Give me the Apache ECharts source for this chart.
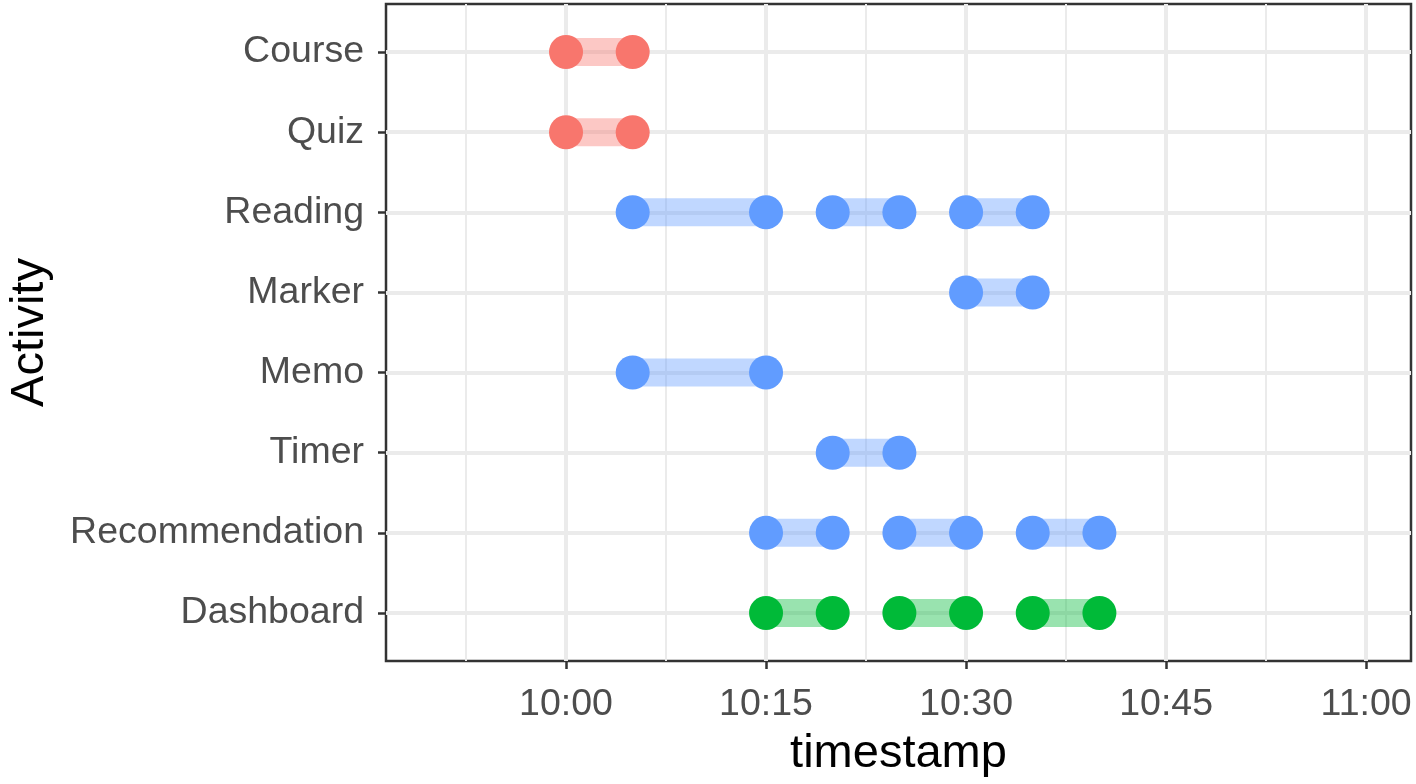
<!DOCTYPE html>
<html>
<head>
<meta charset="utf-8">
<script src="https://cdn.jsdelivr.net/npm/echarts@6/dist/echarts.min.js"></script>
<style>html,body{margin:0;padding:0;background:#fff}#c{width:1416px;height:784px}</style>
</head>
<body>
<div id="c"></div>
<script>
const activities = ['Course','Quiz','Reading','Marker','Memo','Timer','Recommendation','Dashboard'];
const activityGroup = [0,0,1,1,1,1,1,2];
const groupColors = ['#F8766D','#619CFF','#00BA38'];
const segments = [
  ['Course','10:00','10:05'],
  ['Quiz','10:00','10:05'],
  ['Reading','10:05','10:15'],
  ['Reading','10:20','10:25'],
  ['Reading','10:30','10:35'],
  ['Marker','10:30','10:35'],
  ['Memo','10:05','10:15'],
  ['Timer','10:20','10:25'],
  ['Recommendation','10:15','10:20'],
  ['Recommendation','10:25','10:30'],
  ['Recommendation','10:35','10:40'],
  ['Dashboard','10:15','10:20'],
  ['Dashboard','10:25','10:30'],
  ['Dashboard','10:35','10:40']
];
const majorTicks = ['10:00','10:15','10:30','10:45','11:00'];
const minorTicks = ['09:52:30','10:07:30','10:22:30','10:37:30','10:52:30'];
const xRange = ['09:46:30','11:03:22'];

function toMin(s){const p=s.split(':').map(Number);return p[0]*60+p[1]+(p[2]||0)/60;}
function fmt(v){const h=Math.floor(v/60), m=Math.round(v-h*60);return h+':'+(m<10?'0':'')+m;}
function rgba(hex,a){const n=parseInt(hex.slice(1),16);return 'rgba('+(n>>16)+','+((n>>8)&255)+','+(n&255)+','+a+')';}

const segData = segments.map(s=>{const yi=activities.indexOf(s[0]);return [toMin(s[1]),toMin(s[2]),yi,activityGroup[yi]];});
const pointSeries = groupColors.map((col,g)=>{
  const pts=[];
  segData.filter(d=>d[3]===g).forEach(d=>{pts.push([d[0],d[2]]);pts.push([d[1],d[2]]);});
  return {type:'scatter',xAxisIndex:0,yAxisIndex:0,data:pts,symbolSize:34,itemStyle:{color:col,opacity:1},z:5};
});

const font = '"Liberation Sans", Arial, Helvetica, sans-serif';
const chart = echarts.init(document.getElementById('c'),null,{renderer:'canvas'});
chart.setOption({
  animation:false,
  grid:{left:386,right:5,top:4,bottom:123,show:true,borderColor:'#333333',borderWidth:2.5,containLabel:false,outerBoundsMode:'none'},
  xAxis:[{
    type:'value',min:toMin(xRange[0]),max:toMin(xRange[1]),position:'bottom',
    axisLine:{show:false,onZero:false},
    axisTick:{show:true,length:8,lineStyle:{color:'#333333',width:2.5},customValues:majorTicks.map(toMin)},
    axisLabel:{customValues:majorTicks.map(toMin),formatter:fmt,color:'#4D4D4D',fontSize:37.5,fontFamily:font,margin:25},
    splitLine:{show:true,lineStyle:{color:'#EBEBEB',width:4}},
    name:'timestamp',nameLocation:'middle',nameGap:70,nameMoveOverlap:false,nameTextStyle:{color:'#000',fontSize:47,fontFamily:font}
  },{
    type:'value',min:toMin(xRange[0]),max:toMin(xRange[1]),position:'bottom',
    axisLine:{show:false,onZero:false},axisLabel:{show:false},
    axisTick:{show:false,customValues:minorTicks.map(toMin)},
    splitLine:{show:true,lineStyle:{color:'#EBEBEB',width:2}}
  }],
  yAxis:{
    type:'value',min:-0.6,max:activities.length-1+0.6,inverse:true,position:'left',
    axisLine:{show:false,onZero:false},
    axisTick:{show:true,length:8,lineStyle:{color:'#333333',width:2.5},customValues:activities.map((a,i)=>i)},
    axisLabel:{customValues:activities.map((a,i)=>i),formatter:v=>activities[Math.round(v)],color:'#4D4D4D',fontSize:37.5,fontFamily:font,margin:22},
    splitLine:{show:true,lineStyle:{color:'#EBEBEB',width:4}},
    name:'Activity',nameLocation:'middle',nameGap:332,nameRotate:90,nameMoveOverlap:false,nameTextStyle:{color:'#000',fontSize:47,fontFamily:font}
  },
  series:[{
    type:'custom',xAxisIndex:0,yAxisIndex:0,data:segData,encode:{x:[0,1],y:2},z:3,
    renderItem:function(params,api){
      const a=api.coord([api.value(0),api.value(2)]);
      const b=api.coord([api.value(1),api.value(2)]);
      const col=groupColors[api.value(3)];
      return {type:'line',shape:{x1:a[0],y1:a[1],x2:b[0],y2:b[1]},style:{stroke:rgba(col,0.4),lineWidth:28,lineCap:'butt'}};
    }
  }].concat(pointSeries)
});
</script>
</body>
</html>
